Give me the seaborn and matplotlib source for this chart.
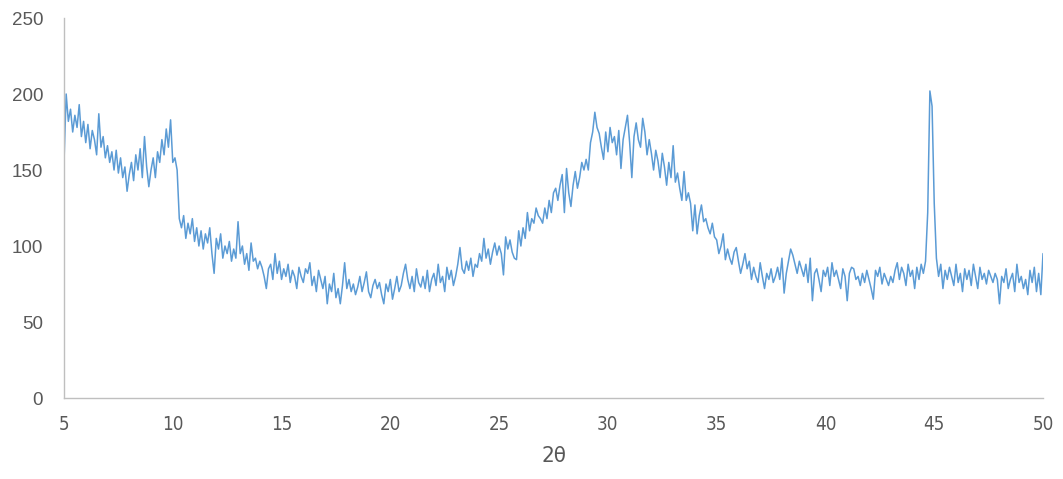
"""
XRD pattern - intensity vs 2theta
"""

import numpy as np
import pandas as pd
import matplotlib.pyplot as plt
import seaborn as sns

sns.set_style("white")
plt.rcParams["font.family"] = ["Liberation Sans", "DejaVu Sans"]

# scan settings
START_ANGLE = 5.0
STEP = 0.1

# intensity, one row per degree (5.0 .. 49.9) then the last point at 50.0
counts = [
    155, 200, 182, 190, 175, 186, 178, 193, 172, 182,
    168, 180, 164, 176, 170, 160, 187, 165, 172, 158,
    166, 155, 162, 150, 163, 148, 158, 145, 152, 136,
    147, 155, 143, 160, 150, 164, 145, 172, 152, 139,
    150, 158, 145, 162, 155, 170, 160, 177, 165, 183,
    155, 158, 150, 118, 112, 120, 105, 115, 108, 118,
    103, 112, 100, 110, 98, 108, 102, 112, 95, 82,
    105, 98, 108, 92, 100, 95, 103, 90, 98, 92,
    116, 95, 100, 88, 95, 84, 102, 90, 92, 85,
    90, 86, 80, 72, 85, 88, 78, 95, 82, 90,
    78, 85, 80, 88, 76, 84, 80, 72, 86, 80,
    76, 85, 82, 89, 74, 80, 70, 84, 78, 72,
    80, 62, 75, 70, 82, 66, 72, 62, 74, 89,
    72, 78, 70, 75, 68, 73, 80, 70, 76, 83,
    70, 66, 74, 78, 72, 76, 68, 62, 75, 70,
    78, 65, 72, 80, 70, 74, 82, 88, 78, 72,
    80, 70, 85, 76, 73, 80, 72, 84, 70, 78,
    82, 74, 88, 76, 80, 70, 86, 78, 84, 74,
    80, 88, 99, 85, 82, 90, 84, 92, 80, 88,
    86, 95, 90, 105, 92, 98, 88, 96, 102, 94,
    100, 95, 81, 106, 98, 104, 96, 92, 91, 110,
    100, 112, 105, 122, 110, 118, 115, 125, 120, 118,
    115, 125, 118, 130, 122, 135, 138, 130, 140, 147,
    122, 151, 135, 126, 140, 149, 138, 145, 155, 150,
    157, 150, 168, 175, 188, 178, 174, 165, 157, 175,
    162, 178, 168, 172, 160, 176, 151, 170, 178, 186,
    168, 145, 172, 181, 170, 165, 184, 175, 160, 170,
    161, 150, 163, 156, 145, 161, 152, 140, 155, 145,
    166, 142, 148, 138, 130, 149, 130, 135, 128, 110,
    127, 108, 120, 127, 116, 118, 112, 108, 115, 106,
    104, 95, 100, 108, 91, 98, 92, 88, 96, 99,
    90, 82, 88, 95, 85, 90, 78, 86, 80, 76,
    89, 80, 72, 82, 78, 85, 76, 80, 86, 78,
    92, 69, 82, 90, 98, 94, 88, 82, 90, 85,
    80, 88, 76, 92, 64, 82, 85, 78, 70, 84,
    80, 86, 74, 89, 80, 84, 78, 72, 85, 80,
    64, 82, 86, 85, 78, 80, 74, 82, 76, 84,
    78, 72, 65, 84, 80, 86, 75, 82, 78, 74,
    80, 76, 84, 89, 78, 86, 82, 74, 88, 80,
    84, 72, 86, 78, 88, 82, 90, 122, 202, 192,
    128, 92, 80, 88, 72, 84, 78, 86, 80, 74,
    88, 76, 82, 70, 85, 78, 84, 74, 88, 80,
    72, 86, 78, 82, 75, 84, 80, 76, 82, 78,
    62, 80, 76, 85, 72, 78, 82, 70, 88, 76,
    80, 72, 78, 68, 84, 76, 86, 70, 82, 68,
    95,
]

x_ticks = [5, 10, 15, 20, 25, 30, 35, 40, 45, 50]
y_ticks = [0, 50, 100, 150, 200, 250]

LINE_COLOR = "#5B9BD5"
TEXT_COLOR = "#595959"
AXIS_COLOR = "#BFBFBF"

########################################################

df = pd.DataFrame({
    "two_theta": START_ANGLE + STEP * np.arange(len(counts)),
    "intensity": counts,
})

fig = plt.figure(figsize=(10.63, 4.79), dpi=100)
ax = fig.add_axes([0.0602, 0.1691, 0.9210, 0.7933])

sns.lineplot(
    data=df,
    x="two_theta",
    y="intensity",
    color=LINE_COLOR,
    linewidth=1.1,
    ax=ax
)

ax.set_xlim(5, 50)
ax.set_ylim(0, 250)
ax.set_xticks(x_ticks)
ax.set_yticks(y_ticks)

narrow = ["DejaVu Sans"]

ax.set_xticklabels(
    [str(t) for t in x_ticks],
    family=narrow,
    fontstretch="condensed",
    fontsize=13.5,
    color=TEXT_COLOR
)
ax.set_yticklabels(
    [str(t) for t in y_ticks],
    fontsize=13.5,
    color=TEXT_COLOR
)

ax.tick_params(axis="x", length=0, pad=12)
ax.tick_params(axis="y", length=0, pad=15)

ax.set_xlabel(
    "2θ",
    family=narrow,
    fontstretch="condensed",
    fontsize=16,
    color=TEXT_COLOR,
    labelpad=9
)
ax.set_ylabel("")

sns.despine(ax=ax)
for side in ["left", "bottom"]:
    ax.spines[side].set_color(AXIS_COLOR)
    ax.spines[side].set_linewidth(1.0)

ax.grid(False)

plt.savefig("out.png", dpi=100)
plt.close()
